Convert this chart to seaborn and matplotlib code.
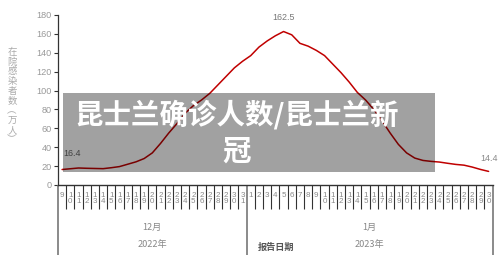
import numpy as np
import pandas as pd
import matplotlib
matplotlib.use("Agg")
import matplotlib.pyplot as plt
import matplotlib.transforms as mtransforms
from matplotlib.patches import Rectangle
import seaborn as sns

# ---------------- data ----------------
days = list(range(9, 32)) + list(range(1, 31))
month_labels = ["12月", "1月"]
year_labels = ["2022年", "2023年"]
month_counts = [23, 30]
values = [16.4, 17.2, 18.0, 17.7, 17.5, 17.3, 18.3, 19.5, 22.0, 24.5,
          28.0, 34.0, 44.0, 55.0, 65.0, 76.0, 84.0, 90.0, 97.0, 106.0,
          115.0, 124.0, 131.0, 137.0, 146.0, 152.5, 158.0, 162.5, 159.0, 150.0,
          147.0, 142.5, 137.0, 128.0, 119.0, 109.0, 98.0, 90.0, 80.0, 68.0,
          55.0, 43.0, 34.0, 28.5, 26.0, 25.0, 24.3, 23.0, 21.8, 21.0,
          19.0, 16.5, 14.4]
y_ticks = list(range(0, 181, 20))
ylabel = "在院感染者数︵万人︶"
xlabel = "报告日期"
title_lines = ["昆士兰确诊人数/昆士兰新", "冠"]

# ---------------- style ----------------
sns.set_theme(style="white")
plt.rcParams['font.family'] = ['Liberation Sans', 'Noto Sans CJK SC', 'DejaVu Sans']
CJK = ['Noto Sans CJK SC', 'DejaVu Sans']

W, H = 500, 267
fig = plt.figure(figsize=(W / 100, H / 100), dpi=100)
fig.patch.set_facecolor("white")
ax = fig.add_axes([58 / W, 1 - 185 / H, (492.7 - 58) / W, 170 / H])
ax.set_facecolor("none")

df = pd.DataFrame({"i": np.arange(len(values)), "v": values})
sns.lineplot(data=df, x="i", y="v", ax=ax, color="#c00000", linewidth=1.1)

n = len(values)
ax.set_xlim(-0.5, n - 0.5)
ax.set_ylim(0, 180)
ax.set_xlabel("")
ax.set_ylabel("")

for s in ["top", "right"]:
    ax.spines[s].set_visible(False)
ax.spines["left"].set_color("#333333")
ax.spines["left"].set_linewidth(0.9)
ax.spines["bottom"].set_color("#333333")
ax.spines["bottom"].set_linewidth(1.0)

ax.set_yticks(y_ticks)
ax.set_yticklabels([str(t) for t in y_ticks])
ax.tick_params(axis="y", left=True, length=3, width=0.8, color="#333333",
               labelcolor="#999999", labelsize=6.6, pad=1.5)

# x ticks: stacked digits
ax.set_xticks(np.arange(n))
ax.set_xticklabels(["\n".join(str(d)) for d in days], linespacing=0.9)
ax.tick_params(axis="x", which="major", bottom=True, length=0, pad=5.0,
               labelsize=5.8, labelcolor="#888888")
bounds = np.cumsum([0] + month_counts) - 0.5
minor = [b for b in np.arange(-0.5, n, 1.0) if not any(abs(b - g) < 1e-6 for g in bounds)]
ax.set_xticks(minor, minor=True)
ax.tick_params(axis="x", which="minor", bottom=True, length=17, width=0.8,
               color="#333333", direction="out")

# group separators
trans = mtransforms.blended_transform_factory(ax.transData, fig.transFigure)
for b in bounds:
    ax.plot([b, b], [1 - 185 / H, 1 - 255 / H], transform=trans, color="#777777",
            linewidth=1.2, clip_on=False, solid_capstyle="butt")

starts = np.cumsum([0] + month_counts[:-1])
for st, cnt, m, yl in zip(starts, month_counts, month_labels, year_labels):
    cx = st + (cnt - 1) / 2
    ax.text(cx, 1 - 227 / H, m, transform=trans, ha="center", va="center",
            fontsize=6.6, color="#888888", family=CJK)
    ax.text(cx, 1 - 245 / H, yl, transform=trans, ha="center", va="center",
            fontsize=6.6, color="#888888", family=CJK)

fig.text(276 / W, 1 - 247 / H, xlabel, ha="center", va="center", fontsize=6.6,
         color="#555555", weight="bold", family=CJK)

# y label, stacked characters
for k, ch in enumerate(ylabel):
    fig.text(12 / W, 1 - (52 + 9.8 * k) / H, ch, ha="center", va="center",
             fontsize=6.8, color="#aaaaaa", family=CJK)

# data labels
imax = int(np.argmax(values))
ax.annotate(f"{values[imax]}", (imax, values[imax]), xytext=(0, 14),
            textcoords="offset pixels", ha="center", va="center",
            fontsize=6.4, color="#777777")
ax.annotate(f"{values[0]}", (0, values[0]), xytext=(1, 16),
            textcoords="offset pixels", ha="left", va="center",
            fontsize=6.4, color="#666666")
ax.annotate(f"{values[-1]}", (n - 1, values[-1]), xytext=(0, 13),
            textcoords="offset pixels", ha="center", va="center",
            fontsize=6.4, color="#888888")

# overlay banner
fig.patches.append(Rectangle((63 / W, 1 - 172 / H), 372 / W, 79 / H,
                             transform=fig.transFigure, facecolor="black",
                             alpha=0.37, edgecolor="none", zorder=10))
fig.text(237 / W, 1 - 115 / H, title_lines[0], ha="center", va="center",
         fontsize=20.5, weight="bold", color="white", family=CJK, zorder=11)
fig.text(237 / W, 1 - 152 / H, title_lines[1], ha="center", va="center",
         fontsize=20.5, weight="bold", color="white", family=CJK, zorder=11)

fig.savefig("out.png", dpi=100)
